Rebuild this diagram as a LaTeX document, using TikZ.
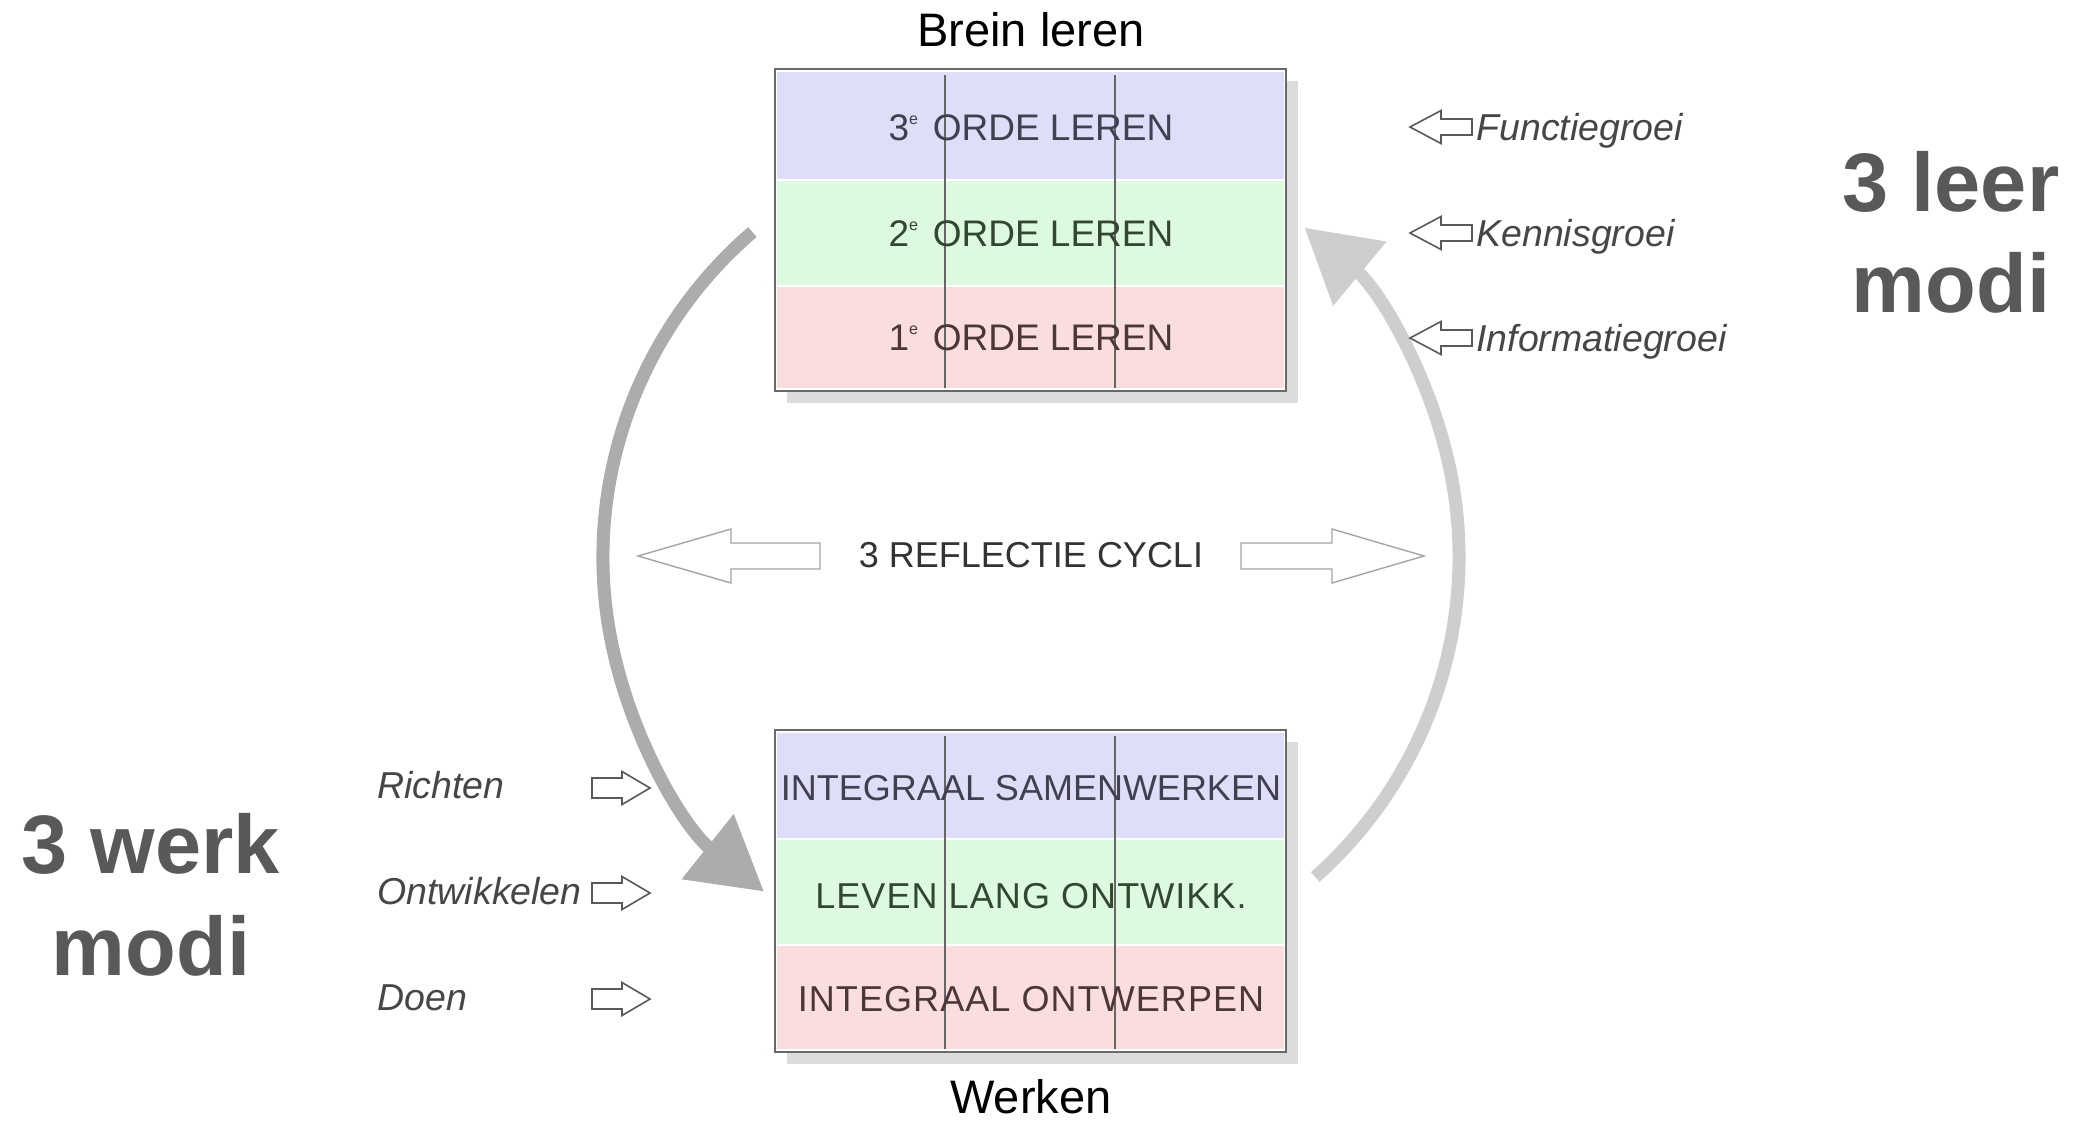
\documentclass[tikz,border=0pt]{standalone}
\usepackage{fontspec}
\setmainfont{Liberation Sans}
\usetikzlibrary{arrows.meta}
\definecolor{bandblue}{RGB}{222,222,248}
\definecolor{bandgreen}{RGB}{222,250,222}
\definecolor{bandred}{RGB}{250,222,222}
\definecolor{shadowc}{RGB}{220,220,220}
\definecolor{framec}{RGB}{105,105,105}
\definecolor{cycleL}{RGB}{172,172,172}
\definecolor{cycleR}{RGB}{206,206,206}
\definecolor{bigarr}{RGB}{165,165,165}
\definecolor{txtblue}{RGB}{64,64,80}
\definecolor{txtgreen}{RGB}{50,70,50}
\definecolor{txtred}{RGB}{75,55,55}
\definecolor{labelc}{RGB}{70,70,70}
\definecolor{modic}{RGB}{89,89,89}
\newcommand\ordsup{\raisebox{0.42em}{\fontsize{8}{8}\selectfont e}\hspace{0.12em}}
\begin{document}
\begin{tikzpicture}[x=0.5pt,y=0.5pt,
  toptxt/.style={font=\fontsize{18.5}{20}\selectfont, inner sep=0pt, anchor=base},
  bottxt/.style={font=\fontsize{18}{20}\selectfont, inner sep=0pt, anchor=base},
  widetxt/.style={font=\fontsize{18}{20}\selectfont\addfontfeatures{LetterSpace=3}, inner sep=0pt, anchor=base},
  lbl/.style={font=\fontsize{18.75}{20}\selectfont\itshape, text=labelc, inner sep=0pt, anchor=base west},
  modi/.style={font=\fontsize{41.5}{48}\selectfont\bfseries, text=modic, inner sep=0pt},
  title/.style={font=\fontsize{23.5}{26}\selectfont, inner sep=0pt, anchor=base},
  smallarr/.style={draw=black!65, line width=0.8pt, fill=white, line join=miter},
  bigarrow/.style={draw=bigarr, line width=0.7pt, fill=white},
  cycL/.style={draw=cycleL, line width=6.5pt, -{Triangle[length=36pt,width=40pt]}},
  cycR/.style={draw=cycleR, line width=6.5pt, -{Triangle[length=36pt,width=40pt]}},
  frame/.style={draw=framec, line width=1.1pt},
  vline/.style={draw=black!60, line width=0.6pt},
  rarr/.pic={\draw[smallarr] (-29,10) -- (1,10) -- (1,16.5) -- (29,0) -- (1,-16.5) -- (1,-10) -- (-29,-10) -- cycle;},
  larr/.pic={\draw[smallarr] (31,8) -- (0,8) -- (0,16.5) -- (-31,0) -- (0,-16.5) -- (0,-8) -- (31,-8) -- cycle;}
]
\useasboundingbox[fill=white] (0,0) rectangle (2081,-1121);

% ---- top box ----
\fill[shadowc] (787,-81) rectangle (1298,-403);
\fill[white] (775,-69) rectangle (1286,-391);
\fill[bandblue] (777,-72) rectangle (1284,-179);
\fill[bandgreen] (777,-181) rectangle (1284,-285);
\fill[bandred] (777,-287) rectangle (1284,-388);
\draw[vline] (945,-75) -- (945,-388);
\draw[vline] (1115,-75) -- (1115,-388);
\draw[frame] (775,-69) rectangle (1286,-391);
\node[toptxt, text=txtblue] (o3) at (1031,-140.3) {3\ordsup{} ORDE LEREN};
\node[toptxt, text=txtgreen] (o2) at (1031,-246.3) {2\ordsup{} ORDE LEREN};
\node[toptxt, text=txtred] (o1) at (1031,-350.3) {1\ordsup{} ORDE LEREN};
\node[title] (brein) at (1031,-46) {Brein leren};

% ---- bottom box ----
\fill[shadowc] (787,-742) rectangle (1298,-1064);
\fill[white] (775,-730) rectangle (1286,-1052);
\fill[bandblue] (777,-733) rectangle (1284,-838);
\fill[bandgreen] (777,-840) rectangle (1284,-944);
\fill[bandred] (777,-946) rectangle (1284,-1049);
\draw[vline] (945,-736) -- (945,-1049);
\draw[vline] (1115,-736) -- (1115,-1049);
\draw[frame] (775,-730) rectangle (1286,-1052);
\node[bottxt, text=txtblue] (w3) at (1031,-800) {INTEGRAAL SAMENWERKEN};
\node[widetxt, text=txtgreen] (w2) at (1031,-908) {LEVEN LANG ONTWIKK.};
\node[widetxt, text=txtred] (w1) at (1031,-1011) {INTEGRAAL ONTWERPEN};
\node[title] (werken) at (1031,-1113) {Werken};

% ---- cycle arrows ----
\coordinate (Lstart) at (752.4,-232.1);
\coordinate (Rstart) at (1315.2,-877);
\draw[cycL] (Lstart) arc[start angle=130.6, end angle=231.4, radius=428];
\draw[cycR] (Rstart) arc[start angle=-48.4, end angle=50.3, radius=428];

% ---- reflectie ----
\node[bottxt, text=black!80] (refl) at (1031,-567) {3 REFLECTIE CYCLI};
\draw[bigarrow] (820,-543) -- (731,-543) -- (731,-529) -- (638,-556) -- (731,-583) -- (731,-569) -- (820,-569) -- cycle;
\draw[bigarrow] (1241,-543) -- (1332,-543) -- (1332,-529) -- (1424,-556) -- (1332,-583) -- (1332,-569) -- (1241,-569) -- cycle;

% ---- right labels ----
\pic at (1441,-127) {larr};
\pic at (1441,-233) {larr};
\pic at (1441,-338) {larr};
\node[lbl] (fg) at (1476,-140.5) {Functiegroei};
\node[lbl] (kg) at (1476,-246.5) {Kennisgroei};
\node[lbl] (ig) at (1476,-351.5) {Informatiegroei};

% ---- left labels ----
\pic at (621,-788) {rarr};
\pic at (621,-893) {rarr};
\pic at (621,-999) {rarr};
\node[lbl] (ri) at (377,-798.5) {Richten};
\node[lbl] (on) at (377,-904.5) {Ontwikkelen};
\node[lbl] (do) at (377,-1010.5) {Doen};

% ---- big labels ----
\node[modi] (leer1) at (1951,-182) {3 leer};
\node[modi] (leer2) at (1951,-283) {modi};
\node[modi] (werk1) at (151,-844) {3 werk};
\node[modi] (werk2) at (151,-946) {modi};
\end{tikzpicture}
\end{document}
